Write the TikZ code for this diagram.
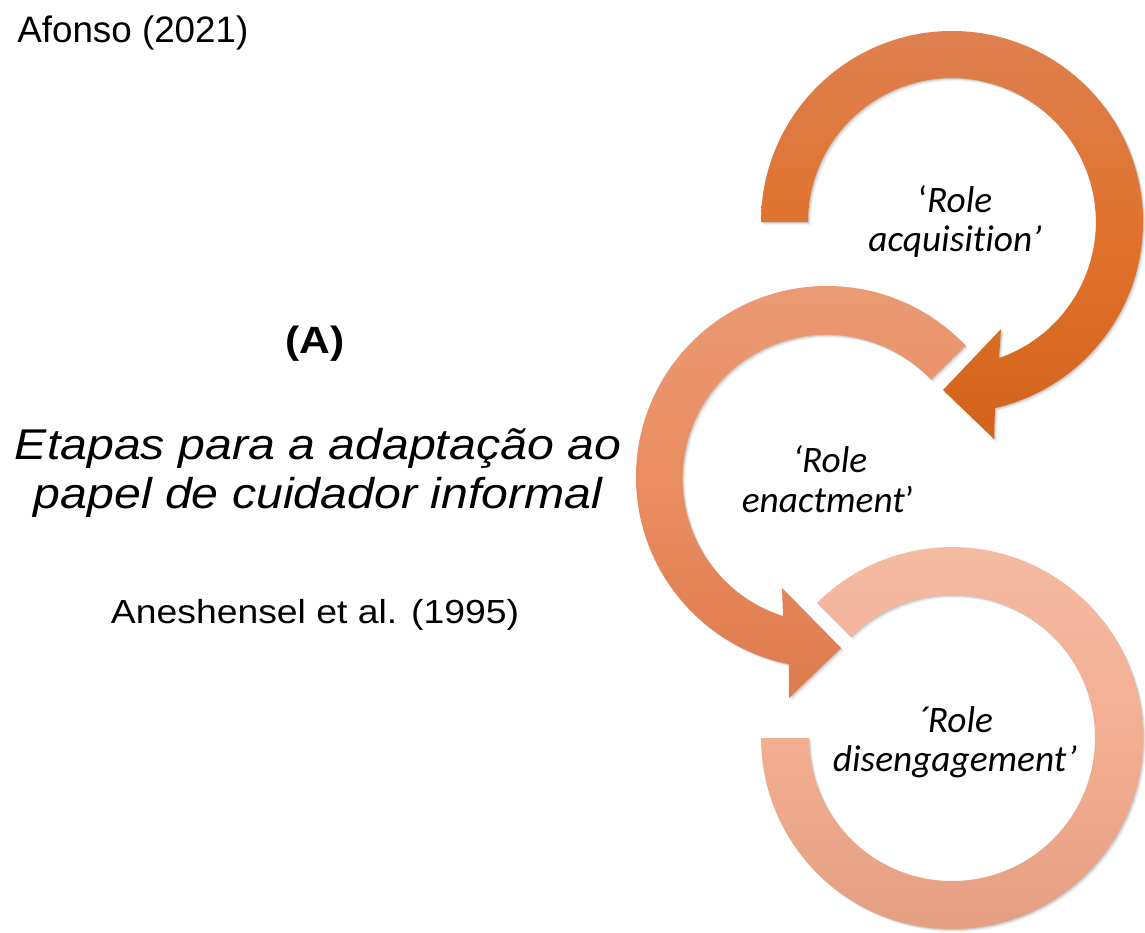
\documentclass[tikz,border=0pt]{standalone}
\usepackage{fontspec}
\setmainfont{Liberation Sans}
\newfontfamily\widesans[FakeStretch=1.12]{Liberation Sans}
\newfontfamily\calib[Ligatures={NoCommon}]{Carlito}
\usetikzlibrary{shadows}
\definecolor{aOneTop}{RGB}{222,128,80}
\definecolor{aOneMid}{RGB}{224,114,44}
\definecolor{aOneBot}{RGB}{211,99,26}
\definecolor{aTwoTop}{RGB}{234,155,118}
\definecolor{aTwoMid}{RGB}{234,141,96}
\definecolor{aTwoBot}{RGB}{221,123,78}
\definecolor{aThrTop}{RGB}{244,188,164}
\definecolor{aThrMid}{RGB}{243,174,146}
\definecolor{aThrBot}{RGB}{227,158,130}
\tikzset{
  softshadow/.style={
    general shadow={fill=black, opacity=0.10, shadow xshift=0.7pt, shadow yshift=-0.7pt},
    general shadow={fill=black, opacity=0.07, shadow xshift=1.4pt, shadow yshift=-1.4pt},
    general shadow={fill=black, opacity=0.05, shadow xshift=2.2pt, shadow yshift=-2.2pt}},
  arrowone/.style={softshadow, top color=aOneTop, bottom color=aOneBot, middle color=aOneMid},
  arrowtwo/.style={softshadow, top color=aTwoTop, bottom color=aTwoBot, middle color=aTwoMid},
  arrowthree/.style={softshadow, top color=aThrTop, bottom color=aThrBot, middle color=aThrMid},
  lab/.style={anchor=base, inner sep=0pt, font=\calib\itshape\fontsize{28pt}{30pt}\selectfont},
  plain/.style={anchor=base, inner sep=0pt}
}
\begin{document}
\begin{tikzpicture}[x=0.75pt, y=-0.75pt]
\useasboundingbox[fill=white] (0,0) rectangle (1145,932);

% arrow 1 : Role acquisition (centre 952,222)
\path[arrowone] (761,222) arc[start angle=180, end angle=437, radius=191]
  -- (994,439) -- (943,390) -- (1001,329) -- (999,358)
  arc[start angle=430.9, end angle=180, radius=143.9] -- cycle;

% arrow 2 : Role enactment (centre 827,477)
\path[arrowtwo] (965.5,345.5) arc[start angle=-43.5, end angle=-258.5, radius=191]
  -- (789,698) -- (841,648) -- (782,588) -- (783,616)
  arc[start angle=-252.4, end angle=-43.5, radius=144] -- cycle;

% ring 3 : Role disengagement (centre 952,738)
\path[arrowthree] (817,603) arc[start angle=-135, end angle=180, radius=191]
  -- (809,738) arc[start angle=180, end angle=-135, radius=143] -- cycle;

% texts
\node[anchor=base west, inner sep=0pt] (afonso) at (17,42) {\fontsize{27.6pt}{30pt}\selectfont Afonso (2021)};
\node[plain] (letter) at (315,353) {\widesans\bfseries\fontsize{28.5pt}{30pt}\selectfont (A)};
\node[plain] (title1) at (318,459) {\widesans\itshape\fontsize{32.3pt}{36pt}\selectfont Etapas para a adaptação ao};
\node[plain] (title2) at (318,508) {\widesans\itshape\fontsize{32.3pt}{36pt}\selectfont papel de cuidador informal};
\node[plain] (ref) at (315,623) {\widesans\fontsize{25pt}{28pt}\selectfont Aneshensel et al. (1995)};

\node[lab] (acqA) at (955,212) {{\upshape ‘}Role};
\node[lab] (acqB) at (955,251) {acquisition’};
\node[lab] (enaA) at (830,472) {‘Role};
\node[lab] (enaB) at (828,512) {enactment{\upshape ’}};
\node[lab] (disA) at (955,732) {´Role};
\node[lab] (disB) at (955,771) {disengagement’};
\end{tikzpicture}
\end{document}
